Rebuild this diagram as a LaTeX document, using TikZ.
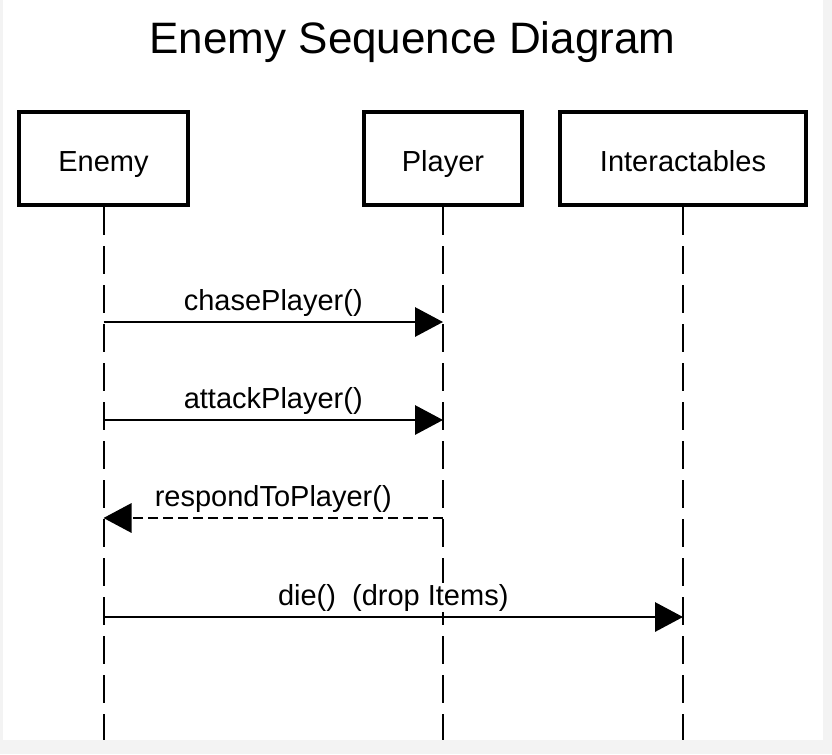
\documentclass[tikz,border=0pt]{standalone}
\usepackage{fontspec}
\setmainfont{Liberation Sans}
\usepackage{tikz}
\usetikzlibrary{arrows.meta}
\definecolor{framegray}{RGB}{243,243,243}
\definecolor{inkblack}{RGB}{0,0,0}

\begin{document}
\begin{tikzpicture}[x=0.75pt, y=-0.75pt,
    actor/.style={draw=inkblack, line width=3pt, minimum height=69.75pt,
        font=\fontsize{21.75}{26}\selectfont, text height=20pt, text depth=0pt},
    lifeline/.style={inkblack, line width=1.5pt, dash pattern=on 21pt off 8.25pt},
    msg/.style={inkblack, line width=1.5pt, -{Triangle[length=21pt,width=22pt]}},
    reply/.style={msg, dash pattern=on 7.5pt off 3.75pt},
    msglabel/.style={font=\fontsize{21.75}{26}\selectfont, anchor=base, yshift=9pt,
        fill=white, inner sep=1pt}]
    % Frame
    \fill[framegray] (0,0) rectangle (832,754);
    \fill[white] (3,0) rectangle (823,740);

    % Title
    \node[font=\fontsize{33}{40}\selectfont, anchor=base] (title) at (412.5,53) {Enemy Sequence Diagram};

    % Participants
    \node[actor, minimum width=126.75pt] (enemy) at (103.5,158.5) {Enemy};
    \node[actor, minimum width=118.5pt] (player) at (443,158.5) {Player};
    \node[actor, minimum width=184.5pt] (items) at (683,158.5) {Interactables};

    % Lifelines
    \coordinate (enemyEnd) at (enemy |- 0,740);
    \coordinate (playerEnd) at (player |- 0,740);
    \coordinate (itemsEnd) at (items |- 0,740);
    \draw[lifeline] (enemy.south) -- (enemyEnd);
    \draw[lifeline] (player.south) -- (playerEnd);
    \draw[lifeline] (items.south) -- (itemsEnd);

    % Messages
    \draw[msg] (enemy |- 0,322) -- node[msglabel, midway] (chaseLbl) {chasePlayer()} (player |- 0,322);
    \draw[msg] (enemy |- 0,420) -- node[msglabel, midway] (attackLbl) {attackPlayer()} (player |- 0,420);
    \draw[reply] (player |- 0,518) -- node[msglabel, midway] (respondLbl) {respondToPlayer()} (enemy |- 0,518);
    \draw[msg] (enemy |- 0,617) -- node[msglabel, midway] (dieLbl) {die()~~(drop Items)} (items |- 0,617);
\end{tikzpicture}
\end{document}
